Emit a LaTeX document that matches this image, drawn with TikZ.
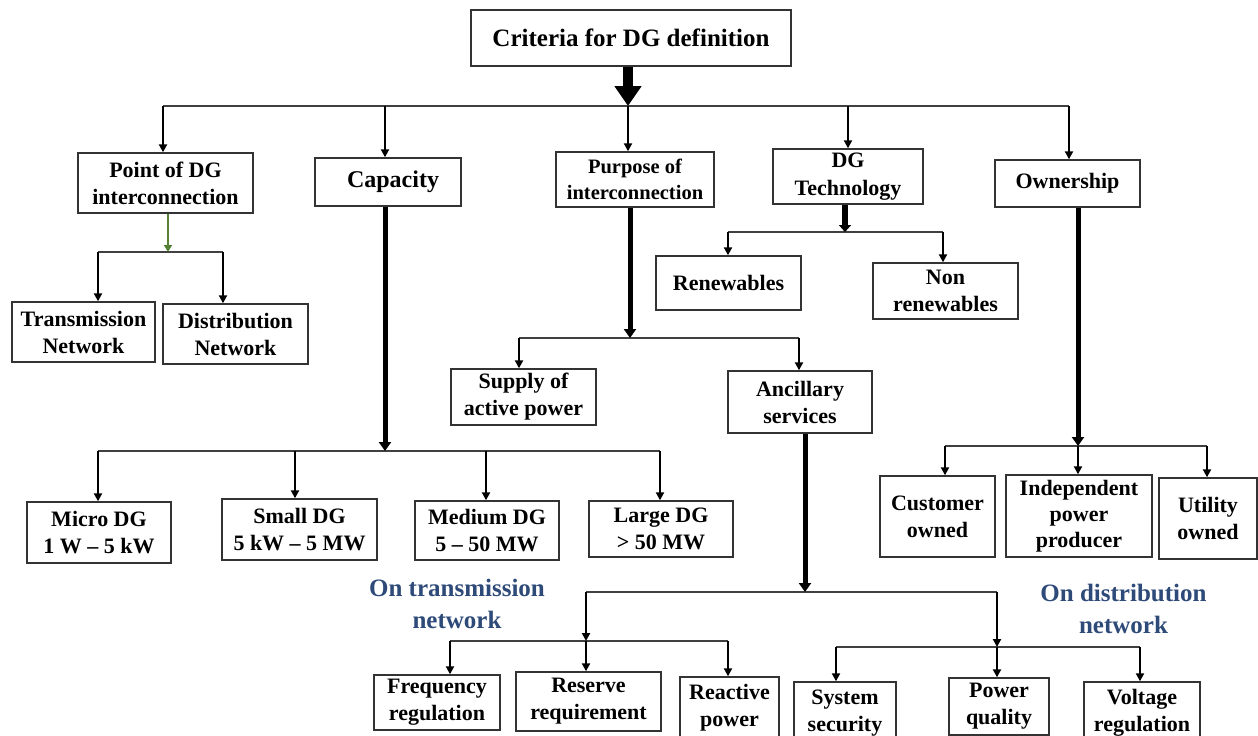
\documentclass[tikz,border=0pt]{standalone}
\usepackage{fontspec}
\setmainfont{Liberation Serif}
\usetikzlibrary{arrows.meta}
\definecolor{bluelbl}{RGB}{46,74,120}
\definecolor{grn}{RGB}{84,130,53}
\begin{document}
\begin{tikzpicture}[x=1pt,y=-1pt,
  box/.style={draw=black!80,line width=1.4pt,inner sep=0pt,align=center,fill=white,
    font=\bfseries\fontsize{22}{27}\selectfont},
  sz/.style 2 args={minimum width=#1pt,minimum height=#2pt},
  bus/.style={draw=black!75,line width=1.6pt},
  arr/.style={draw=black,line width=2pt,-{Triangle[length=8pt,width=8pt]}},
  thick arr/.style={draw=black,line width=5pt,-{Triangle[length=9pt,width=12pt]}},
  root arr/.style={draw=black,line width=10pt,-{Triangle[length=20pt,width=26pt]}},
  lbl/.style={align=center,text=bluelbl,font=\bfseries\fontsize{25}{32}\selectfont}]
\useasboundingbox (0,0) rectangle (1258,736);

% ---------- nodes ----------
\node[box,sz={320}{56},font=\bfseries\fontsize{25}{30}\selectfont] (root) at (631,38) {Criteria for DG definition};

\node[box,sz={175}{60}] (pdg) at (165.5,183) {Point of DG\\interconnection};
\node[box,sz={146}{48},font=\bfseries\fontsize{24}{28}\selectfont] (cap) at (388,182) {\hspace*{10pt}Capacity};
\node[box,sz={158}{55},font=\bfseries\fontsize{20.5}{26}\selectfont] (pur) at (635,179.5) {Purpose of\\interconnection};
\node[box,sz={150}{55},font=\bfseries\fontsize{22}{28}\selectfont] (tech) at (848,176.5) {DG\\Technology};
\node[box,sz={145}{47}] (own) at (1067.5,183.5) {Ownership};

\node[box,sz={143}{60}] (trans) at (83.5,332) {Transmission\\Network};
\node[box,sz={145}{60}] (dist) at (235.5,334) {Distribution\\Network};

\node[box,sz={144}{61}] (micro) at (99,532.5) {Micro DG\\1 W – 5 kW};
\node[box,sz={155}{61}] (small) at (299.5,529.5) {Small DG\\5 kW – 5 MW};
\node[box,sz={144}{59}] (medium) at (487,530.5) {Medium DG\\5 – 50 MW};
\node[box,sz={144}{56}] (large) at (661,529) {Large DG\\> 50 MW};

\node[box,sz={145}{56}] (supply) at (523.5,397) {Supply of\\active power};
\node[box,sz={144}{62}] (anc) at (800,402) {Ancillary\\services};

\node[box,sz={145}{54}] (ren) at (728.5,283) {Renewables};
\node[box,sz={145}{56}] (nonren) at (945.5,291) {Non\\renewables};

\node[box,sz={115}{81}] (cust) at (937.5,516.5) {Customer\\owned};
\node[box,sz={146}{82},font=\bfseries\fontsize{22}{26}\selectfont] (ipp) at (1079,516) {Independent\\power\\producer};
\node[box,sz={98}{81}] (util) at (1208,518.5) {Utility\\owned};

\node[box,sz={126}{55}] (freq) at (437,702.5) {Frequency\\regulation};
\node[box,sz={145}{59}] (res) at (588.5,701.5) {Reserve\\requirement};
\node[box,sz={99}{61}] (react) at (729.5,707.5) {Reactive\\power};
\node[box,sz={102}{62}] (sys) at (845,713) {System\\security};
\node[box,sz={100}{57}] (pq) at (999,706.5) {Power\\quality};
\node[box,sz={116}{62}] (volt) at (1142,713) {Voltage\\regulation};

\node[lbl] (ltrans) at (457,604) {On transmission\\network};
\node[lbl] (ldist) at (1123.5,609) {On distribution\\network};

% ---------- top level ----------
\coordinate (t0) at (628,106);
\coordinate (t1) at (163,106);
\coordinate (t2) at (385,106);
\coordinate (t4) at (848,106);
\coordinate (t5) at (1069,106);
\draw[bus] (t1) -- (t5);
\draw[root arr] (root.south -| t0) -- (t0);
\draw[arr] (t1) -- (t1 |- pdg.north);
\draw[arr] (t2) -- (t2 |- cap.north);
\draw[arr] (t0) -- (t0 |- pur.north);
\draw[arr] (t4) -- (t4 |- tech.north);
\draw[arr] (t5) -- (t5 |- own.north);

% ---------- point of interconnection ----------
\coordinate (p0) at (168,252);
\coordinate (p1) at (98,252);
\coordinate (p2) at (223,252);
\draw[bus] (p1) -- (p2);
\draw[draw=grn,line width=2.5pt,-{Triangle[length=7pt,width=8pt]}] (pdg.south -| p0) -- (p0);
\draw[arr] (p1) -- (p1 |- trans.north);
\draw[arr] (p2) -- (p2 |- dist.north);

% ---------- capacity ----------
\coordinate (c0) at (385,451);
\coordinate (c1) at (98,451);
\coordinate (c2) at (295,451);
\coordinate (c3) at (486,451);
\coordinate (c4) at (660,451);
\draw[bus] (c1) -- (c4);
\draw[thick arr] (cap.south -| c0) -- (c0);
\draw[arr] (c1) -- (c1 |- micro.north);
\draw[arr] (c2) -- (c2 |- small.north);
\draw[arr] (c3) -- (c3 |- medium.north);
\draw[arr] (c4) -- (c4 |- large.north);

% ---------- purpose ----------
\coordinate (u0) at (630,338);
\coordinate (u1) at (519,338);
\coordinate (u2) at (799,338);
\draw[bus] (u1) -- (u2);
\draw[thick arr] (pur.south -| u0) -- (u0);
\draw[arr] (u1) -- (u1 |- supply.north);
\draw[arr] (u2) -- (u2 |- anc.north);

% ---------- technology ----------
\coordinate (g0) at (845,232);
\coordinate (g1) at (728,232);
\coordinate (g2) at (943,232);
\draw[bus] (g1) -- (g2);
\draw[draw=black,line width=6pt,-{Triangle[length=7pt,width=12pt]}] (tech.south -| g0) -- (g0);
\draw[arr] (g1) -- (g1 |- ren.north);
\draw[arr] (g2) -- (g2 |- nonren.north);

% ---------- ownership ----------
\coordinate (o0) at (1078,446);
\coordinate (o1) at (945,446);
\coordinate (o3) at (1207,446);
\draw[bus] (o1) -- (o3);
\draw[thick arr] (own.south -| o0) -- (o0);
\draw[arr] (o1) -- (o1 |- cust.north);
\draw[arr] (o0) -- (o0 |- ipp.north);
\draw[arr] (o3) -- (o3 |- util.north);

% ---------- ancillary ----------
\coordinate (a0) at (805,592);
\coordinate (a1) at (586,592);
\coordinate (a2) at (997,592);
\draw[bus] (a1) -- (a2);
\draw[thick arr] (anc.south -| a0) -- (a0);

\coordinate (s0) at (586,641);
\coordinate (s1) at (450,641);
\coordinate (s2) at (728,641);
\draw[bus] (s1) -- (s2);
\draw[arr] (a1) -- (s0);
\draw[arr] (s0) -- (s0 |- res.north);
\draw[arr] (s1) -- (s1 |- freq.north);
\draw[arr] (s2) -- (s2 |- react.north);

\coordinate (d0) at (997,647);
\coordinate (d1) at (836,647);
\coordinate (d2) at (1140,647);
\draw[bus] (d1) -- (d2);
\draw[arr] (a2) -- (d0);
\draw[arr] (d0) -- (d0 |- pq.north);
\draw[arr] (d1) -- (d1 |- sys.north);
\draw[arr] (d2) -- (d2 |- volt.north);
\end{tikzpicture}
\end{document}
